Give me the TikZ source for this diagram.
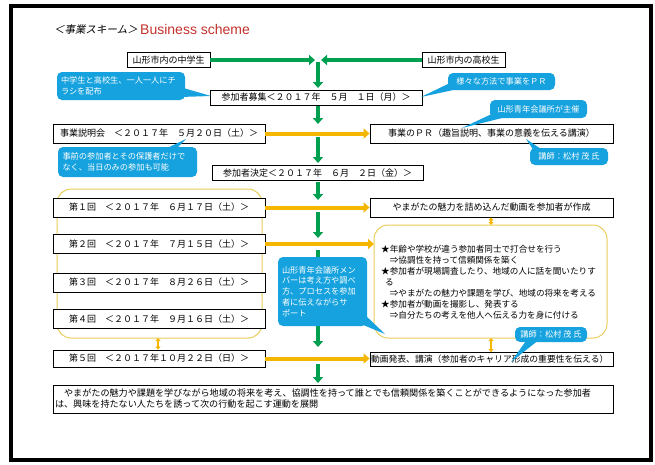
\documentclass[tikz,border=0pt]{standalone}
\usepackage{fontspec}
\setmainfont{Liberation Sans}
\newfontfamily\jp{Noto Sans CJK JP}
\newfontfamily\jpit[FakeSlant=0.2]{Noto Sans CJK JP}
\usetikzlibrary{arrows.meta,calc}
\definecolor{grn}{RGB}{0,160,80}
\definecolor{org}{RGB}{245,182,0}
\definecolor{ylw}{RGB}{232,205,90}
\definecolor{blu}{RGB}{22,162,222}
\definecolor{ttl}{RGB}{196,50,45}
\begin{document}
\begin{tikzpicture}[x=1pt,y=-1pt,
  box/.style={draw=black, line width=0.8pt, fill=white, inner sep=0pt, text=black,
    font=\jp\fontsize{9}{11}\selectfont},
  call/.style={fill=blu, rounded corners=5pt, text=white, inner sep=0pt,
    font=\jp\fontsize{8.2}{10.8}\selectfont, align=left},
  grp/.style={draw=ylw, line width=1pt, rounded corners=14pt},
  garr/.style={draw=grn, line width=4pt, -{Triangle[length=6pt,width=10pt]}},
  oarr/.style={draw=org, line width=4pt, -{Triangle[length=6pt,width=10pt]}},
  dbl/.style={draw=org, line width=1.6pt, {Triangle[length=3pt,width=5pt]}-{Triangle[length=3pt,width=5pt]}},
  tail/.style={fill=blu}]
\useasboundingbox (0,0) rectangle (655,464);
\fill[white] (0,0) rectangle (655,464);
\draw[line width=4pt] (11,6) rectangle (651,460);

% title
\node[anchor=west, inner sep=0pt, font=\jpit\fontsize{10.5}{12}\selectfont] (tjp) at (54,30) {＜事業スキーム＞};
\node[anchor=west, inner sep=0pt, text=ttl, font=\fontsize{14}{16}\selectfont] (ten) at (140,29) {Business scheme};

% yellow groups
\draw[grp] (57,189) rectangle (262,338);
\coordinate (lyS) at (158,338);
\draw[grp] (374,225) rectangle (607,338);
\coordinate (ryW) at (374,244);
\coordinate (ryN) at (491,225);
\coordinate (ryS) at (491,338);

% boxes
\node[box, minimum width=83pt, minimum height=15pt] (jh) at (168.5,60) {山形市内の中学生};
\node[box, minimum width=83pt, minimum height=15pt] (hs) at (463.5,60) {山形市内の高校生};
\node[box, minimum width=212pt, minimum height=15pt] (recruit) at (316,97.5) {参加者募集＜２０１７年　５月　１日（月）＞};
\node[box, minimum width=212pt, minimum height=19pt] (setsumei) at (159,133.5) {事業説明会　＜２０１７年　５月２０日（土）＞};
\node[box, minimum width=243pt, minimum height=19pt] (pr) at (491.5,133.5) {事業のＰＲ（趣旨説明、事業の意義を伝える講演）};
\node[box, minimum width=211pt, minimum height=15pt] (decide) at (317.5,173) {参加者決定＜２０１７年　６月　２日（金）＞};
\node[box, minimum width=212pt, minimum height=19pt] (r1) at (159,207.5) {第１回　＜２０１７年　６月１７日（土）＞};
\node[box, minimum width=243pt, minimum height=19pt] (movie) at (491.5,207.5) {やまがたの魅力を詰め込んだ動画を参加者が作成};
\node[box, minimum width=212pt, minimum height=19pt] (r2) at (159,244) {第２回　＜２０１７年　７月１５日（土）＞};
\node[box, minimum width=212pt, minimum height=19pt] (r3) at (159,282.5) {第３回　＜２０１７年　８月２６日（土）＞};
\node[box, minimum width=212pt, minimum height=19pt] (r4) at (159,319) {第４回　＜２０１７年　９月１６日（土）＞};
\node[box, minimum width=212pt, minimum height=17pt] (r5) at (159,358.5) {第５回　＜２０１７年１０月２２日（日）＞};
\node[box, minimum width=243pt, minimum height=14pt, text width=241pt, align=left,
  font=\jp\fontsize{8.8}{11}\selectfont] (present) at (491.5,359.5) {動画発表、講演（参加者のキャリア形成の重要性を伝える）};
\node[box, minimum width=560pt, minimum height=28pt, text width=556pt, align=left,
  font=\jp\fontsize{9.1}{11}\selectfont] (final) at (333,399) {　やまがたの魅力や課題を学びながら地域の将来を考え、協調性を持って誰とでも信頼関係を築くことができるようになった参加者\\は、興味を持たない人たちを誘って次の行動を起こす運動を展開};

% text inside right group
\node[anchor=north west, inner sep=0pt, align=left, font=\jp\fontsize{8.6}{11}\selectfont] (acts) at (381,245)
{★年齢や学校が違う参加者同士で打合せを行う\\
　⇒協調性を持って信頼関係を築く\\
★参加者が現場調査したり、地域の人に話を聞いたりす\\
\hspace{4pt}る\\
　⇒やまがたの魅力や課題を学び、地域の将来を考える\\
★参加者が動画を撮影し、発表する\\
　⇒自分たちの考えを他人へ伝える力を身に付ける};

% green flow
\coordinate (j1) at (315,60);
\coordinate (j2) at (321,60);
\coordinate (j0) at (318,62);
\draw[garr] (jh.east) -- (j1);
\draw[garr] (hs.west) -- (j2);
\coordinate (g1) at (318,88);
\draw[garr] (j0) -- (g1);
\coordinate (g2a) at (318,106); \coordinate (g2b) at (318,124);
\draw[garr] (g2a) -- (g2b);
\coordinate (g3a) at (318,137); \coordinate (g3b) at (318,163);
\draw[garr] (g3a) -- (g3b);
\coordinate (g4a) at (318,182); \coordinate (g4b) at (318,200);
\draw[garr] (g4a) -- (g4b);
\coordinate (g5a) at (318,212); \coordinate (g5b) at (318,238);
\draw[garr] (g5a) -- (g5b);
\coordinate (g6a) at (318,250); \coordinate (g6b) at (318,347);
\draw[garr] (g6a) -- (g6b);
\coordinate (g7a) at (318,364); \coordinate (g7b) at (318,383);
\draw[garr] (g7a) -- (g7b);

% orange arrows
\draw[oarr] (setsumei.east) -- (pr.west);
\draw[oarr] (r1.east) -- (movie.west);
\draw[oarr] (r2.east) -- (r2.east -| ryW);
\draw[oarr] (r5.east) -- (r5.east -| present.west);
\draw[dbl] (movie.south -| ryN) -- (ryN);
\draw[dbl] (ryS) -- (ryS |- present.north);
\draw[dbl] (lyS) -- (lyS |- r5.north);

% callouts
\coordinate (p1) at (211,96);
\fill[tail] (180,87) -- (p1) -- (180,97) -- cycle;
\node[call, minimum width=128pt, minimum height=28pt, text width=120pt] (c1) at (121,86) {中学生と高校生、一人一人にチ\\ラシを配布};

\coordinate (p2) at (421,97);
\fill[tail] (452,82) -- (p2) -- (458,89) -- cycle;
\node[call, minimum width=107pt, minimum height=17pt, align=center] (c2) at (501.5,81.5) {様々な方法で事業をＰＲ};

\coordinate (p3) at (462,128);
\fill[tail] (496,112) -- (p3) -- (506,117) -- cycle;
\node[call, minimum width=97pt, minimum height=18pt, align=center] (c3) at (538.5,109) {山形青年会議所が主催};

\coordinate (p4) at (186,139);
\fill[tail] (163,150) -- (p4) -- (175,150) -- cycle;
\node[call, minimum width=139pt, minimum height=30pt, text width=130pt] (c4) at (127.5,162) {事前の参加者とその保護者だけで\\なく、当日のみの参加も可能};

\coordinate (p5) at (526,139);
\fill[tail] (534,151) -- (p5) -- (544,151) -- cycle;
\node[call, minimum width=78pt, minimum height=17pt, align=center] (c5) at (569,156.5) {講師：松村 茂 氏};

\coordinate (p6) at (385,334);
\fill[tail] (356,322) -- (p6) -- (364,314) -- cycle;
\node[call, minimum width=89pt, minimum height=69pt, text width=81pt] (c6) at (322.5,291.5) {山形青年会議所メン\\バーは考え方や調べ\\方、プロセスを参加\\者に伝えながらサ\\ポート};

\coordinate (p7) at (511,362);
\fill[tail] (528,338) -- (p7) -- (540,339) -- cycle;
\node[call, minimum width=72pt, minimum height=15pt, align=center] (c7) at (551,334.5) {講師：松村 茂 氏};
\end{tikzpicture}
\end{document}
